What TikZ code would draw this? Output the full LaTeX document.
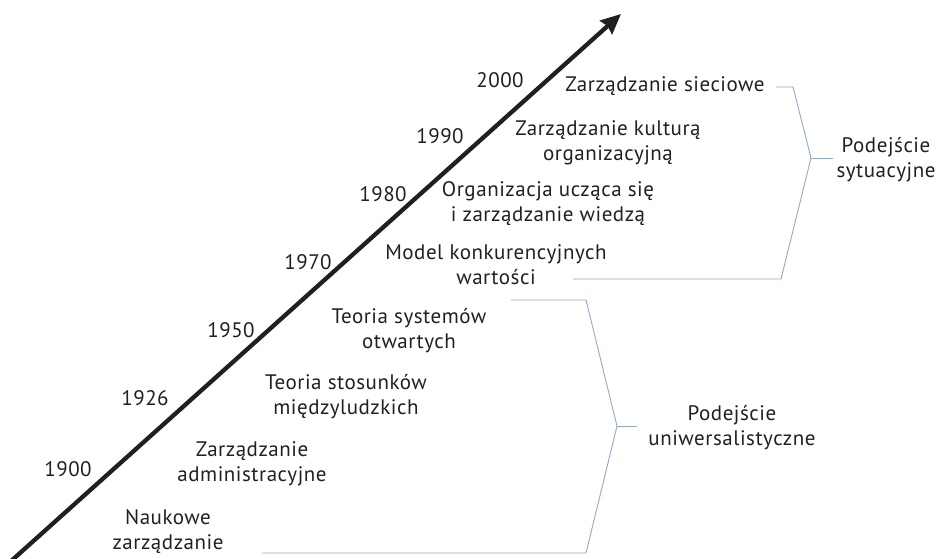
\documentclass[tikz,border=0pt]{standalone}
\usepackage{fontspec}
\setmainfont{PT Sans}[LetterSpace=2.5]
\usetikzlibrary{arrows.meta, positioning}
\definecolor{clrText}{HTML}{231F20}
\definecolor{clrBrace}{HTML}{8FA9CB}
\tikzset{
  year/.style = {font=\fontsize{21}{25}\selectfont, text=clrText, inner sep=0pt},
  item/.style = {align=center, font=\fontsize{21}{25}\selectfont, text=clrText, inner sep=0pt},
  axis/.style = {-{Stealth[length=20pt, width=18pt, inset=2pt]}, line width=4.3pt, draw=clrText},
  brace/.style = {draw=clrBrace, line width=0.9pt},
}

\begin{document}
\begin{tikzpicture}[x=1pt, y=-1pt]
\useasboundingbox (0,0) rectangle (940,559);

% Time axis
\coordinate (axStart) at (10,562);
\coordinate (axEnd) at (621,14);
\draw[axis] (axStart) -- (axEnd);

% Years
\node[year] (y2000) at (500,80)  {2000};
\node[year] (y1990) at (440,136) {1990};
\node[year] (y1980) at (383,194) {1980};
\node[year] (y1970) at (308,262) {1970};
\node[year] (y1950) at (231,330) {1950};
\node[year] (y1926) at (145,398) {1926};
\node[year] (y1900) at (68,469)  {1900};

% Concepts
\node[item] (itNet)   at (665,86)  {Zarządzanie sieciowe};
\node[item] (itCult)  at (608,143) {Zarządzanie kulturą\\organizacyjną};
\node[item] (itLearn) at (548,204) {Organizacja ucząca się\\i zarządzanie wiedzą};
\node[item] (itComp)  at (496,265) {Model konkurencyjnych\\wartości};
\node[item] (itSys)   at (409,331) {Teoria systemów\\otwartych};
\node[item] (itHum)   at (346,397) {Teoria stosunków\\międzyludzkich};
\node[item] (itAdm)   at (252,464) {Zarządzanie\\administracyjne};
\node[item] (itSci)   at (168,532) {Naukowe\\zarządzanie};

% Approaches
\node[item] (apSit) at (886,160) {Podejście\\sytuacyjne};
\node[item] (apUni) at (732,428) {Podejście\\uniwersalistyczne};

% Upper bracket
\coordinate (sitTop) at (776,87);
\coordinate (sitTopC) at (793,87);
\coordinate (sitMid) at (811,158);
\coordinate (sitStub) at (833,158);
\coordinate (sitBotC) at (781,279);
\coordinate (sitBot) at (573,279);
\draw[brace] (sitTop) -- (sitTopC) -- (sitMid) -- (sitBotC) -- (sitBot);
\draw[brace] (sitMid) -- (sitStub);

% Lower bracket
\coordinate (uniTop) at (511,300);
\coordinate (uniTopC) at (586,300);
\coordinate (uniMid) at (617,426);
\coordinate (uniStub) at (637,426);
\coordinate (uniBotC) at (586,553);
\coordinate (uniBot) at (262,553);
\draw[brace] (uniTop) -- (uniTopC) -- (uniMid) -- (uniBotC) -- (uniBot);
\draw[brace] (uniMid) -- (uniStub);
\end{tikzpicture}
\end{document}
